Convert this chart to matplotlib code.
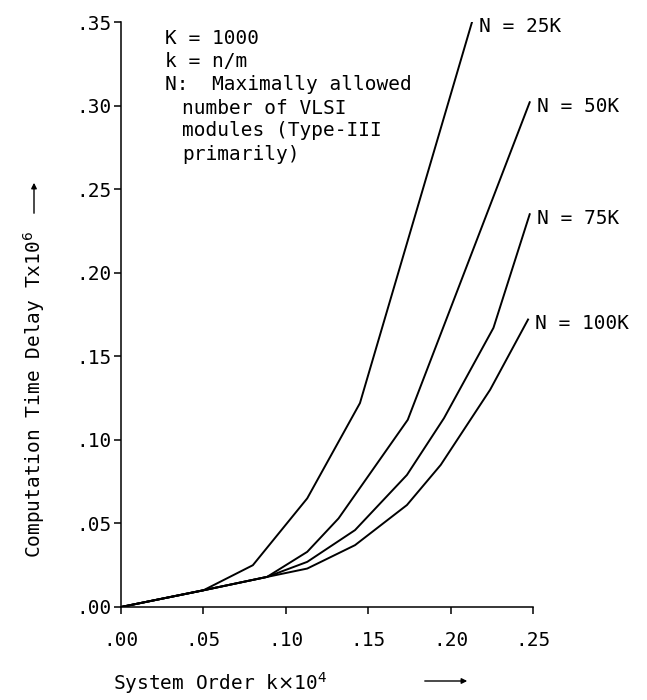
import matplotlib
matplotlib.use("Agg")
import matplotlib.pyplot as plt

# ---- data ----
k_25k = [0.0, 0.05, 0.080, 0.113, 0.145, 0.213]
t_25k = [0.0, 0.010, 0.025, 0.065, 0.122, 0.350]

k_50k = [0.0, 0.05, 0.0886, 0.113, 0.132, 0.174, 0.248]
t_50k = [0.0, 0.010, 0.018, 0.033, 0.053, 0.112, 0.302]

k_75k = [0.0, 0.05, 0.0886, 0.113, 0.142, 0.1735, 0.196, 0.226, 0.248]
t_75k = [0.0, 0.010, 0.018, 0.027, 0.046, 0.079, 0.113, 0.167, 0.235]

k_100k = [0.0, 0.05, 0.0886, 0.113, 0.142, 0.1735, 0.194, 0.224, 0.247]
t_100k = [0.0, 0.010, 0.018, 0.023, 0.037, 0.061, 0.085, 0.130, 0.172]

curve_labels = ["N = 25K", "N = 50K", "N = 75K", "N = 100K"]

x_ticks = [0.00, 0.05, 0.10, 0.15, 0.20, 0.25]
x_tick_labels = [".00", ".05", ".10", ".15", ".20", ".25"]
y_ticks = [0.00, 0.05, 0.10, 0.15, 0.20, 0.25, 0.30, 0.35]
y_tick_labels = [".00", ".05", ".10", ".15", ".20", ".25", ".30", ".35"]

note_lines = ["K = 1000", "k = n/m", "N:  Maximally allowed"]
note_indent = ["number of VLSI", "modules (Type-III", "primarily)"]

plt.rcParams["font.family"] = ["DejaVu Sans Mono", "DejaVu Sans"]
plt.rcParams["mathtext.fontset"] = "dejavusans"

W, H = 647, 700
fig = plt.figure(figsize=(W / 100, H / 100), dpi=100)
ax = fig.add_axes([121 / W, (H - 607) / H, 412 / W, 585 / H])

series = [(k_25k, t_25k), (k_50k, t_50k), (k_75k, t_75k), (k_100k, t_100k)]
for (xs, ys), lab in zip(series, curve_labels):
    ax.plot(xs, ys, color="black", lw=1.4, solid_joinstyle="miter")
    ax.annotate(lab, (xs[-1], ys[-1]), xytext=(5, -3), textcoords="offset points",
                ha="left", va="center", fontsize=14, annotation_clip=False)

ax.set_xlim(0, 0.25)
ax.set_ylim(0, 0.35)
ax.spines["top"].set_visible(False)
ax.spines["right"].set_visible(False)
for s in ("left", "bottom"):
    ax.spines[s].set_linewidth(1.1)

ax.set_xticks(x_ticks)
ax.set_xticklabels(x_tick_labels)
ax.set_yticks(y_ticks)
ax.set_yticklabels(y_tick_labels)
ax.tick_params(axis="x", direction="out", length=5, width=1.1, pad=12, labelsize=14)
ax.tick_params(axis="y", direction="out", length=5, width=1.1, pad=2, labelsize=14)

# notes in upper left
for i, line in enumerate(note_lines):
    fig.text(165 / W, 1 - (38 + 23.3 * i) / H, line, fontsize=14, va="center", ha="left")
for i, line in enumerate(note_indent):
    fig.text(182 / W, 1 - (108 + 23 * i) / H, line, fontsize=14, va="center", ha="left")

# axis labels, placed like the typed originals
fig.text(34 / W, 1 - 558 / H, r"Computation Time Delay Tx10$^6$", rotation=90,
         ha="center", va="bottom", fontsize=14)
fig.text(113 / W, 1 - 683 / H, r"System Order k$\times$10$^4$", ha="left", va="center",
         fontsize=14)

arrow = dict(arrowstyle="-|>", color="black", lw=1.0, mutation_scale=8)
fig.add_artist(matplotlib.patches.FancyArrowPatch((34 / W, 1 - 216 / H), (34 / W, 1 - 180 / H),
                                                  transform=fig.transFigure, **arrow))
fig.add_artist(matplotlib.patches.FancyArrowPatch((422 / W, 1 - 681 / H), (470 / W, 1 - 681 / H),
                                                  transform=fig.transFigure, **arrow))

fig.savefig("out.png", dpi=100)
